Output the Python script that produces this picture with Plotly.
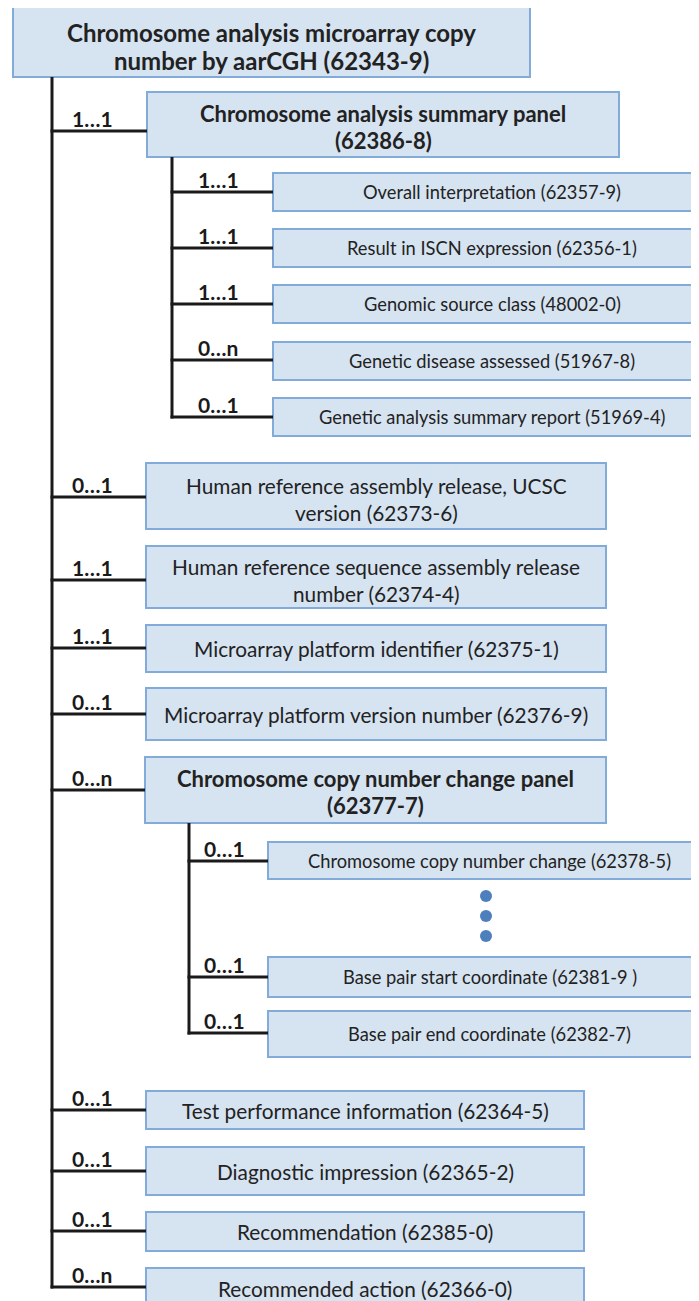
import plotly.graph_objects as go

# ---------------- data (tree content) ----------------
node_labels = [
    "Chromosome analysis microarray copy<br>number by aarCGH (62343-9)",
    "Chromosome analysis summary panel<br>(62386-8)",
    "Overall interpretation (62357-9)",
    "Result in ISCN expression (62356-1)",
    "Genomic source class (48002-0)",
    "Genetic disease assessed (51967-8)",
    "Genetic analysis summary report (51969-4)",
    "Human reference assembly release, UCSC<br>version (62373-6)",
    "Human reference sequence assembly release<br>number (62374-4)",
    "Microarray platform identifier (62375-1)",
    "Microarray platform version number (62376-9)",
    "Chromosome copy number change panel<br>(62377-7)",
    "Chromosome copy number change (62378-5)",
    "Base pair start coordinate (62381-9 )",
    "Base pair end coordinate (62382-7)",
    "Test performance information (62364-5)",
    "Diagnostic impression (62365-2)",
    "Recommendation (62385-0)",
    "Recommended action (62366-0)",
]
cardinality = [None, "1…1", "1…1", "1…1", "1…1", "0…n", "0…1",
               "0…1", "1…1", "1…1", "0…1", "0…n",
               "0…1", "0…1", "0…1",
               "0…1", "0…1", "0…1", "0…n"]
parent = [-1, 0, 1, 1, 1, 1, 1, 0, 0, 0, 0, 0, 11, 11, 11, 0, 0, 0, 0]
is_panel = [True, True, False, False, False, False, False, False, False, False,
            False, True, False, False, False, False, False, False, False]

# ---------------- layout geometry (pixels) ----------------
box_x = [(13, 530), (147, 619), (273, 711), (273, 711), (273, 711), (273, 711), (273, 711),
         (146, 606), (146, 606), (146, 606), (146, 606), (145, 606),
         (268, 711), (268, 711), (268, 711),
         (146, 584), (146, 584), (146, 584), (146, 584)]
box_y = [(7, 77), (92, 157), (173, 211), (229, 267), (285, 323), (342, 380), (398, 436),
         (463, 529), (546, 608), (625, 672), (688, 740), (757, 823),
         (842, 879), (957, 997), (1011, 1057),
         (1091, 1129), (1147, 1195), (1212, 1251), (1268, 1308)]
conn_y = [None, 131, 192, 248, 304, 360, 417, 497, 580, 648, 714, 790,
          861, 977, 1033, 1110, 1171, 1231, 1287]
trunk_x = {0: 52, 1: 172, 11: 189}
label_x = {0: 92, 1: 218, 11: 224}
dots_x = [486, 486, 486]
dots_y = [896, 916, 936]

W, H = 699, 1301
OFF = 8  # page body margin of the html output
FILL = "#d6e3f1"
EDGE = "#82abda"
INK = "#1a1a1a"
TXT = "#222222"
FONT = "Lato"

fig = go.Figure()
shapes = []
annotations = []

# boxes
for i, lab in enumerate(node_labels):
    x0, x1 = box_x[i]
    y0, y1 = box_y[i]
    shapes.append(dict(type="rect", xref="x", yref="y", x0=x0, x1=x1, y0=y0, y1=y1,
                       fillcolor=FILL, line=dict(color=EDGE, width=2), layer="below"))
    bold = is_panel[i]
    if i == 0:
        size, gap, shift = 24, 28, 4
    elif is_panel[i]:
        size, gap, shift = 22, 27, 2
    elif parent[i] == 0:
        size, gap, shift = 20.8, 27, 2.5
    else:
        size, gap, shift = 18.3, 24, 0
    lines = lab.split("<br>")
    n = len(lines)
    cy = (y0 + y1) / 2 + (shift if n > 1 else 0)
    for k, line in enumerate(lines):
        yk = cy + (k - (n - 1) / 2) * gap
        annotations.append(dict(x=(x0 + x1) / 2, y=yk, xref="x", yref="y",
                                text=f"<b>{line}</b>" if bold else line,
                                showarrow=False, xanchor="center", yanchor="middle",
                                align="center",
                                font=dict(family=FONT, size=size, color=TXT)))

# trunks
for p, tx in trunk_x.items():
    kids = [i for i in range(len(parent)) if parent[i] == p]
    shapes.append(dict(type="line", xref="x", yref="y", x0=tx, x1=tx,
                       y0=box_y[p][1], y1=max(conn_y[k] for k in kids) + 1.5,
                       line=dict(color=INK, width=3)))

# connectors + cardinality labels
for i in range(1, len(node_labels)):
    p = parent[i]
    tx = trunk_x[p]
    shapes.append(dict(type="line", xref="x", yref="y", x0=tx - 1.5, x1=box_x[i][0],
                       y0=conn_y[i], y1=conn_y[i], line=dict(color=INK, width=3)))
    annotations.append(dict(x=label_x[p], y=conn_y[i] - 13, xref="x", yref="y",
                            text=f"<b>{cardinality[i]}</b>", showarrow=False,
                            xanchor="center", yanchor="middle",
                            font=dict(family=FONT, size=21, color=INK)))

# ellipsis dots
fig.add_trace(go.Scatter(x=dots_x, y=dots_y, mode="markers",
                         marker=dict(size=12, color="#4d7fbd"),
                         hoverinfo="skip", showlegend=False))

fig.update_layout(
    width=W - OFF, height=H - OFF, margin=dict(l=0, r=0, t=0, b=0),
    paper_bgcolor="white", plot_bgcolor="white",
    xaxis=dict(range=[OFF, W], visible=False, fixedrange=True),
    yaxis=dict(range=[H, OFF], visible=False, fixedrange=True),
    shapes=shapes, annotations=annotations, showlegend=False,
)
fig.write_html("out.html")
